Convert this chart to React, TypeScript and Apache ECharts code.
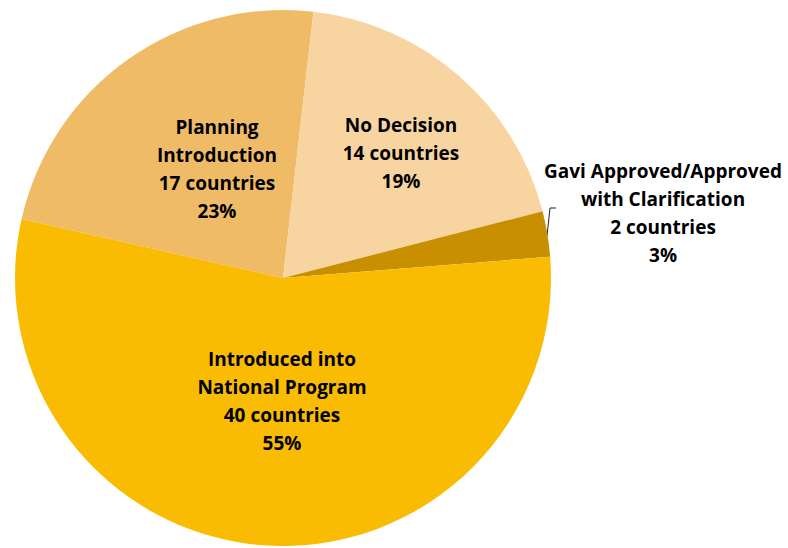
import React, { useEffect, useRef } from "react";
import * as echarts from "echarts";

const categories = [
  "Planning\nIntroduction",
  "No Decision",
  "Gavi Approved/Approved\nwith Clarification",
  "Introduced into\nNational Program",
];
const countries = [17, 14, 2, 40];
const percents = ["23%", "19%", "3%", "55%"];
const colors = ["#EFBB67", "#F8D4A0", "#C89000", "#F9BC02"];

const labelPos: [number, number][] = [
  [217, 169],
  [401, 153],
  [663, 213],
  [282, 401],
];

export default function App() {
  const ref = useRef<HTMLDivElement>(null);
  useEffect(() => {
    if (!ref.current) return;
    const chart = echarts.init(ref.current, undefined, { renderer: "svg" });
    chart.setOption({
      animation: false,
      backgroundColor: "#ffffff",
      series: [
        {
          type: "pie",
          center: [283, 278],
          radius: 268,
          startAngle: 167.3,
          clockwise: true,
          avoidLabelOverlap: false,
          itemStyle: { borderWidth: 0 },
          label: {
            show: true,
            position: "inside",
            color: "#000",
            fontFamily: "Open Sans",
            fontWeight: "bold",
            fontSize: 19,
            lineHeight: 28,
            align: "center",
            formatter: (p: any) =>
              `${p.name}\n${countries[p.dataIndex]} countries\n${percents[p.dataIndex]}`,
          },
          labelLine: { show: false },
          labelLayout: (p: any) => {
            const [x, y] = labelPos[p.dataIndex];
            const res: any = { x, y, align: "center", verticalAlign: "middle" };
            if (p.dataIndex === 2) {
              res.labelLinePoints = [
                [547, 236],
                [550, 208],
                [556, 208],
              ];
            }
            return res;
          },
          data: categories.map((name, i) => ({
            name,
            value: countries[i],
            itemStyle: { color: colors[i] },
            ...(i === 2
              ? {
                  label: { position: "outside" },
                  labelLine: {
                    show: true,
                    lineStyle: { color: "#222", width: 1 },
                  },
                }
              : {}),
          })),
        },
      ],
    });
    return () => chart.dispose();
  }, []);
  return (
    <div
      ref={ref}
      style={{ position: "absolute", left: 0, top: 0, width: 788, height: 548 }}
    />
  );
}
